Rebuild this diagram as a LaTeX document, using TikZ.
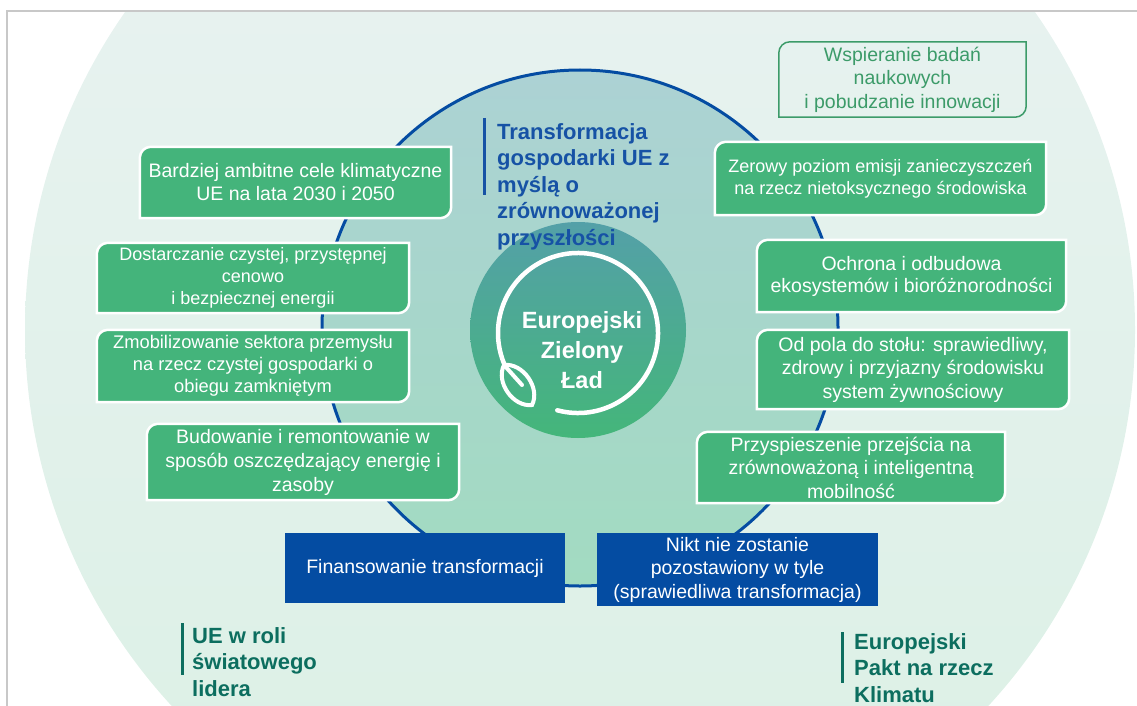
\documentclass[tikz,border=0pt]{standalone}
\usepackage{fontspec}
\setmainfont{Liberation Sans}
\usepackage{tikz}
\usetikzlibrary{positioning}

\definecolor{paletop}{RGB}{234,243,242}
\definecolor{palebot}{RGB}{219,240,229}
\definecolor{ringtop}{RGB}{172,210,212}
\definecolor{ringbot}{RGB}{162,219,193}
\definecolor{disktop}{RGB}{84,160,168}
\definecolor{diskbot}{RGB}{68,182,122}
\definecolor{boxgreen}{RGB}{68,180,123}
\definecolor{linegreen}{RGB}{60,155,105}
\definecolor{eublue}{RGB}{4,76,162}
\definecolor{titleblue}{RGB}{22,82,165}
\definecolor{darkteal}{RGB}{12,110,95}
\definecolor{framegray}{RGB}{200,200,200}

\pgfdeclarelayer{back}
\pgfdeclarelayer{mid}
\pgfsetlayers{back,mid,main}

% box with round top-left and bottom-right corners
\newcommand\LeafBox[2]{%
  \path[#2] (#1.south west) -- ([yshift=-11pt]#1.north west)
    .. controls ([yshift=-5pt]#1.north west) and ([xshift=5pt]#1.north west) .. ([xshift=11pt]#1.north west)
    -- (#1.north east) -- ([yshift=11pt]#1.south east)
    .. controls ([yshift=5pt]#1.south east) and ([xshift=-5pt]#1.south east) .. ([xshift=-11pt]#1.south east) -- cycle;
}

\tikzset{
  gbox/.style={inner sep=0pt, align=center, text=white},
  boxfill/.style={fill=boxgreen, draw=white, line width=2.5pt},
  boxline/.style={draw=linegreen, line width=1.5pt},
  bluebox/.style={inner sep=0pt, align=center, text=white, fill=eublue,
    font={\fontsize{19.5}{23.5}\selectfont}},
  titletext/.style={inner sep=0pt, align=left, anchor=north west,
    font={\bfseries\fontsize{22}{26.5}\selectfont}},
  titlebar/.style={line width=3pt},
  leafline/.style={draw=white, line width=4.5pt, line cap=round}
}

\begin{document}
\begin{tikzpicture}[x=1pt,y=-1pt]
\useasboundingbox (0,0) rectangle (1137,706);

\begin{pgfonlayer}{back}
% background circles
\begin{scope}
  \clip (7,11) rectangle (1137,706);
  \shade[top color=paletop, bottom color=palebot] (580,330) circle[radius=555];
\end{scope}
\draw[framegray, line width=1.2pt] (7,706) -- (7,11) -- (1137,11);
\shadedraw[top color=ringtop, bottom color=ringbot, draw=eublue, line width=3pt]
  (580,328) circle[radius=258];
\shade[top color=disktop, bottom color=diskbot] (578,330) circle[radius=108];
% ring and leaf
\draw[leafline] (578,333) ++(105:80) arc[start angle=105, end angle=-204, radius=80];
\draw[leafline, line width=4pt] (504,365) to[bend left=62] (532,405) to[bend left=62] (504,365);
\draw[leafline, line width=4pt] (504,365) -- (522,385);
\end{pgfonlayer}

\node[inner sep=0pt, align=center, text=white,
  font={\bfseries\fontsize{23.5}{30}\selectfont}] (egd) at (582,350) {Europejski\\Zielony\\Ład};

% titles
\node[titletext, text=titleblue] (trans) at (497,123)
  {Transformacja\\gospodarki UE z\\myślą o\\zrównoważonej\\przyszłości};
\draw[titlebar, titleblue] (484,118) -- (484,195);
\node[titletext, text=darkteal] (leader) at (192,627) {UE w roli\\światowego\\lidera};
\draw[titlebar, darkteal] (182,623) -- (182,675);
\node[titletext, text=darkteal] (pact) at (854,633) {Europejski\\Pakt na rzecz\\Klimatu};
\draw[titlebar, darkteal] (842,632) -- (842,683);

% green boxes, left
\node[gbox, minimum width=311, minimum height=71, font={\fontsize{19.5}{23}\selectfont}]
  (climate) at (295.5,182.5) {Bardziej ambitne cele klimatyczne\\UE na lata 2030 i 2050};
\node[gbox, minimum width=312, minimum height=70, font={\fontsize{18}{22}\selectfont}]
  (energy) at (253,278) {Dostarczanie czystej, przystępnej\\cenowo\\i bezpiecznej energii};
\node[gbox, minimum width=312, minimum height=72, font={\fontsize{18.3}{21.8}\selectfont}]
  (industry) at (253,366) {Zmobilizowanie sektora przemysłu\\na rzecz czystej gospodarki o\\obiegu zamkniętym};
\node[gbox, minimum width=312, minimum height=76, font={\fontsize{19.5}{24}\selectfont}]
  (building) at (303,462) {Budowanie i remontowanie w\\sposób oszczędzający energię i\\zasoby};

% green boxes, right
\node[gbox, text=linegreen, minimum width=247, minimum height=75, font={\fontsize{19.5}{23.5}\selectfont}]
  (research) at (902.5,79.5) {Wspieranie badań\\naukowych\\i pobudzanie innowacji};
\node[gbox, minimum width=331, minimum height=73, font={\fontsize{18}{22}\selectfont}]
  (pollution) at (880.5,178.5) {Zerowy poziom emisji zanieczyszczeń\\na rzecz nietoksycznego środowiska};
\node[gbox, minimum width=309, minimum height=72, font={\fontsize{19.5}{22}\selectfont}]
  (nature) at (911.5,276) {Ochrona i odbudowa\\ekosystemów i bioróżnorodności};
\node[gbox, minimum width=312, minimum height=79, font={\fontsize{19.5}{23.5}\selectfont}]
  (food) at (913,369.5) {Od pola do stołu: sprawiedliwy,\\zdrowy i przyjazny środowisku\\system żywnościowy};
\node[gbox, minimum width=308, minimum height=71, font={\fontsize{19.5}{23.5}\selectfont}]
  (mobility) at (851,467.5) {Przyspieszenie przejścia na\\zrównoważoną i inteligentną\\mobilność};

\begin{pgfonlayer}{mid}
\foreach \n in {climate,energy,industry,building,pollution,nature,food,mobility}
  \LeafBox{\n}{boxfill};
\LeafBox{research}{boxline}
\end{pgfonlayer}

% blue boxes
\node[bluebox, minimum width=280, minimum height=70] (finance) at (425,568) {Finansowanie transformacji};
\node[bluebox, minimum width=281, minimum height=73] (justice) at (737.5,569.5)
  {Nikt nie zostanie\\pozostawiony w tyle\\(sprawiedliwa transformacja)};
\end{tikzpicture}
\end{document}
